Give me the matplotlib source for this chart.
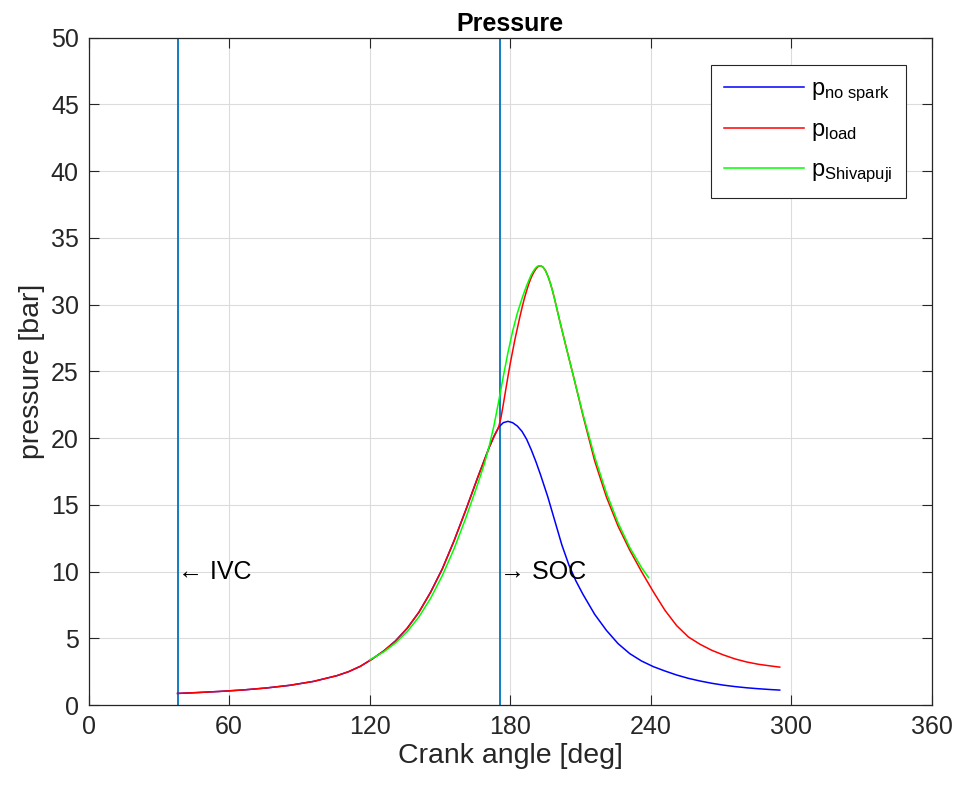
import matplotlib
matplotlib.use("Agg")
import matplotlib.pyplot as plt

plt.rcParams['font.family'] = ['Liberation Sans', 'DejaVu Sans']
plt.rcParams['mathtext.fontset'] = 'custom'
plt.rcParams['mathtext.rm'] = 'Liberation Sans'
plt.rcParams['mathtext.it'] = 'Liberation Sans'

# ---- data ----
ang_load = [38, 46, 56, 66, 76, 86, 96, 106, 111, 116, 121, 126, 131, 136, 141, 146, 151,
            156, 161, 166, 171, 173, 175, 176, 177, 178, 179, 180, 181, 182, 183, 184, 185,
            186, 187, 188, 189, 190, 191, 192, 193, 194, 195, 196, 197, 198, 199, 201, 204,
            207, 211, 216, 221, 226, 231, 236, 241, 246, 251, 256, 261, 266, 271, 276, 281,
            286, 291, 295]
p_load = [0.87, 0.93, 1.02, 1.13, 1.28, 1.48, 1.77, 2.2, 2.5, 2.9, 3.44, 4.05, 4.8, 5.75, 6.95, 8.45, 10.2,
          12.3, 14.6, 17.0, 19.3, 20.1, 20.8, 21.5, 22.5, 23.55, 24.6, 25.6, 26.5, 27.4, 28.2, 29.0, 29.75,
          30.45, 31.05, 31.6, 32.05, 32.4, 32.68, 32.86, 32.9, 32.8, 32.55, 32.15, 31.65, 31.05, 30.35, 28.85, 26.7,
          24.6, 21.7, 18.3, 15.6, 13.4, 11.6, 10.0, 8.5, 7.1, 5.95, 5.1, 4.55, 4.1, 3.75, 3.45, 3.22,
          3.05, 2.93, 2.84]

ang_nospark = [38, 46, 56, 66, 76, 86, 96, 106, 111, 116, 121, 126, 131, 136, 141, 146, 151,
               156, 161, 166, 171, 173, 175, 177, 179, 181, 183, 185, 187, 189, 191, 193, 196,
               199, 202, 205, 208, 211, 216, 221, 226, 231, 236, 241, 246, 251, 256, 261, 266,
               271, 276, 281, 286, 291, 295]
p_nospark = [0.87, 0.93, 1.02, 1.13, 1.28, 1.48, 1.77, 2.2, 2.5, 2.9, 3.44, 4.05, 4.8, 5.75, 6.95, 8.45, 10.2,
             12.3, 14.6, 17.0, 19.3, 20.1, 20.8, 21.15, 21.25, 21.15, 20.9, 20.5, 19.9, 19.1, 18.2, 17.2, 15.6,
             13.8, 12.0, 10.5, 9.3, 8.3, 6.8, 5.6, 4.6, 3.85, 3.3, 2.88, 2.55, 2.25, 2.0, 1.8, 1.63,
             1.49, 1.38, 1.29, 1.22, 1.16, 1.12]

ang_shiv = [120, 126, 131, 136, 141, 146, 151, 156, 161, 166, 169, 171, 173, 175, 177, 179,
            181, 183, 185, 186, 187, 188, 189, 190, 191, 192, 193, 194, 195, 196, 197, 198,
            199, 201, 204, 207, 211, 216, 221, 226, 231, 236, 239]
p_shiv = [3.38, 3.98, 4.65, 5.5, 6.6, 8.0, 9.7, 11.7, 14.0, 16.5, 18.1, 19.4, 20.9, 22.7, 24.6, 26.4,
          28.0, 29.35, 30.45, 30.95, 31.42, 31.85, 32.25, 32.55, 32.78, 32.9, 32.9, 32.78, 32.55, 32.15, 31.65, 31.05,
          30.35, 28.85, 26.7, 24.6, 21.8, 18.6, 15.9, 13.65, 11.8, 10.3, 9.55]

ivc_angle = 38
soc_angle = 175.5
labels = [r'$\mathregular{p_{no\ spark}}$', r'$\mathregular{p_{load}}$', r'$\mathregular{p_{Shivapuji}}$']
xticks = [0, 60, 120, 180, 240, 300, 360]
yticks = list(range(0, 55, 5))

fig = plt.figure(figsize=(9.58, 7.92), dpi=100)
ax = fig.add_axes([0.0924, 0.1098, 0.8805, 0.8428])

txtc = '#262626'
ax.plot(ang_nospark, p_nospark, color='#0000ff', lw=1.1, label=labels[0], zorder=3)
ax.plot(ang_load, p_load, color='#ff0000', lw=1.1, label=labels[1], zorder=4)
ax.plot(ang_shiv, p_shiv, color='#00ff00', lw=1.1, label=labels[2], zorder=5)

ax.axvline(ivc_angle, color='#0072BD', lw=1.3, zorder=2)
ax.axvline(soc_angle, color='#0072BD', lw=1.3, zorder=2)
ax.text(ivc_angle, 10, '\u2190 IVC', fontsize=18, color='black', va='center', ha='left')
ax.text(soc_angle, 10, '\u2192 SOC', fontsize=18, color='black', va='center', ha='left')

ax.set_xlim(0, 360)
ax.set_ylim(0, 50)
ax.set_xticks(xticks)
ax.set_yticks(yticks)
ax.grid(True, color='#dcdcdc', lw=0.8)
ax.set_axisbelow(True)
ax.tick_params(direction='in', length=7, width=0.8, colors=txtc, labelsize=18, top=True, right=True,
               labeltop=False, labelright=False, pad=7)
for s in ax.spines.values():
    s.set_color(txtc)
    s.set_linewidth(0.9)

ax.set_xlabel('Crank angle [deg]', fontsize=20.5, color=txtc, labelpad=3)
ax.set_ylabel('pressure [bar]', fontsize=20.5, color=txtc, labelpad=4)
ax.set_title('Pressure', fontsize=18, fontweight='bold', color='black', pad=5)

leg = ax.legend(loc='upper right', bbox_to_anchor=(0.969, 0.959), borderaxespad=0, fontsize=17,
                frameon=True, fancybox=False, edgecolor=txtc, framealpha=1, handlelength=3.4,
                borderpad=0.55, labelspacing=0.66, handletextpad=0.3)
leg.get_frame().set_linewidth(0.8)

fig.savefig('out.png', dpi=100, facecolor='white')
